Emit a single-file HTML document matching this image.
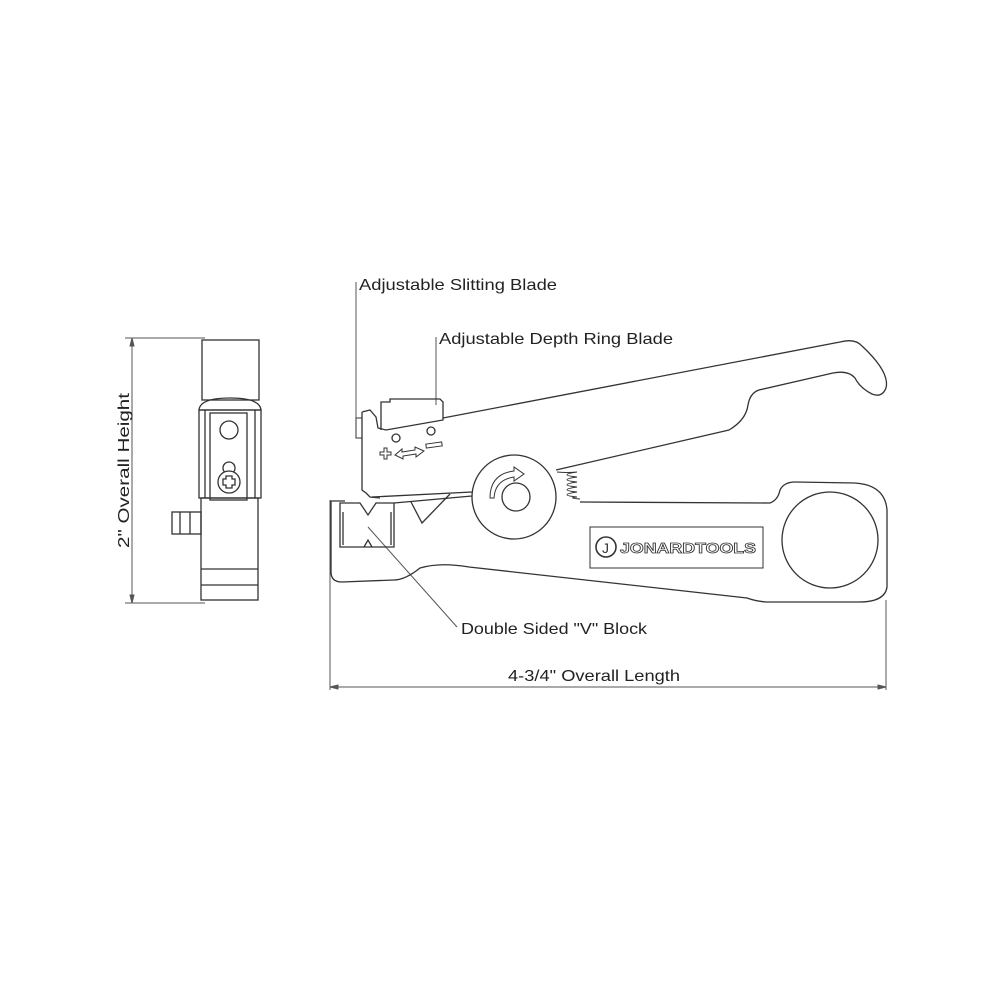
<!DOCTYPE html>
<html><head><style>html,body{margin:0;padding:0;background:#fff}svg{display:block}</style></head>
<body>
<svg width="1000" height="1000" viewBox="0 0 1000 1000" xmlns="http://www.w3.org/2000/svg" font-family="'Liberation Sans', sans-serif" fill="none" stroke="#333" stroke-width="1.3">
<!-- Dimensions -->
<g stroke="#555" stroke-width="1">
<line x1="330" y1="500" x2="330" y2="690"/>
<line x1="886" y1="600" x2="886" y2="690"/>
<line x1="330" y1="687" x2="886" y2="687"/>
<path d="M330 687 l8 -2 v4 z M886 687 l-8 -2 v4 z" fill="#555"/>
<line x1="125" y1="338" x2="205" y2="338"/>
<line x1="125" y1="603" x2="205" y2="603"/>
<line x1="132" y1="338" x2="132" y2="603"/>
<path d="M132 338 l-2 8 h4 z M132 603 l-2 -8 h4 z" fill="#555"/>
<line x1="356" y1="282" x2="356" y2="425"/>
<line x1="436" y1="337" x2="436" y2="405"/>
<line x1="368" y1="527" x2="457" y2="627"/>
</g>
<g fill="#222" stroke="none" font-size="16">
<text x="359" y="290" textLength="198" lengthAdjust="spacingAndGlyphs">Adjustable Slitting Blade</text>
<text x="439" y="344" textLength="234" lengthAdjust="spacingAndGlyphs">Adjustable Depth Ring Blade</text>
<text x="461" y="634" textLength="186" lengthAdjust="spacingAndGlyphs">Double Sided "V" Block</text>
<text x="508" y="681" textLength="172" lengthAdjust="spacingAndGlyphs">4-3/4" Overall Length</text>
<text transform="translate(129,548) rotate(-90)" textLength="155" lengthAdjust="spacingAndGlyphs">2" Overall Height</text>
</g>
<!-- Side view -->
<g>
<rect x="202" y="340" width="57" height="60"/>
<path d="M199 410 Q200 398 230 398 Q260 398 261 410 Z"/>
<rect x="199" y="410" width="62" height="88"/>
<rect x="210" y="413" width="37" height="87"/>
<line x1="205" y1="410" x2="205" y2="498"/><line x1="255" y1="410" x2="255" y2="498"/>
<circle cx="229" cy="430" r="9"/>
<circle cx="229" cy="468" r="6"/>
<circle cx="229" cy="482" r="11" fill="#fff"/>
<path d="M226 476 h6 v3 h3 v6 h-3 v3 h-6 v-3 h-3 v-6 h3 z"/>
<rect x="201" y="498" width="57" height="102"/>
<line x1="201" y1="569" x2="258" y2="569"/><line x1="201" y1="585" x2="258" y2="585"/>
<rect x="172" y="512" width="29" height="22"/>
<line x1="180" y1="512" x2="180" y2="534"/><line x1="190" y1="512" x2="190" y2="534"/>
</g>
<!-- Main tool: lower body -->
<path d="M580 502 L770 503 Q778 500 780 490 Q784 482 795 482 L855 483 Q885 485 887 510 L887 587 Q885 602 859 602 L766 602 Q755 601 747 598 L469 567 Q440 562 420 568 Q405 580 394 580 L342 582 Q331 582 331 572 L331 501 L345 501"/>
<path d="M394 503 L472 496"/>
<circle cx="830" cy="540" r="48"/>
<rect x="590" y="527" width="173" height="41" stroke-width="1"/>
<circle cx="606" cy="547" r="10" stroke-width="1.6"/>
<text x="602" y="553" font-size="14" fill="#333" stroke="none">J</text>
<text x="620" y="553" font-size="15" font-weight="bold" fill="#fff" stroke="#333" stroke-width="0.8" textLength="136" lengthAdjust="spacingAndGlyphs">JONARDTOOLS</text>
<!-- V block -->
<path d="M340 503 L360 503 L368 515 L376 503 L394 503 L394 547 L340 547 Z"/>
<path d="M343 512 L343 545 M391 512 L391 545"/>
<path d="M364 547 L368 540 L372 547"/>
<!-- top handle -->
<path d="M372 497 L472 492 L476 490"/>
<path d="M411 502 L422 523 L450 494"/>
<path d="M443 418 L840 342 Q855 338 862 346 Q890 372 886 388 Q882 398 872 394 Q860 388 855 378 Q848 370 833 373 L759 390 Q750 393 748 405 Q746 420 729 430 L556 470"/>
<!-- spring -->
<path d="M557 472 q10 1 20 0 q-20 3 0 5 q-20 3 0 5 q-20 3 0 5 q-20 3 0 5 q-20 3 0 5 q-10 1 3 2" stroke-width="1"/>
<!-- wheel -->
<circle cx="514" cy="497" r="42" fill="#fff"/>
<circle cx="516" cy="497" r="14"/>
<path d="M490 498 Q490 474 514 471 L514 467 L524 474 L514 481 L514 477 Q495 480 494 498 Z" stroke-width="1"/>
<!-- slitting blade -->
<path d="M362 412 L370 410 L376 417 L378 428 L386 430 L443 420 L443 418 M362 412 L362 490 L366 493 L370 497 L380 498"/>
<rect x="356" y="418" width="6" height="20" stroke-width="1"/>
<path d="M381 430 L381 402 L390 402 L390 399 L440 399 L443 402 L443 418" />
<circle cx="396" cy="438" r="4"/>
<circle cx="431" cy="431" r="4"/>
<path d="M384 448 h3 v4 h4 v3 h-4 v4 h-3 v-4 h-4 v-3 h4 z" stroke-width="1"/>
<path d="M395 455 L402 449 L402 452 L415 450 L415 447 L424 451 L416 457 L416 454 L403 456 L403 459 Z" stroke-width="1"/>
<rect x="426" y="443" width="16" height="4" transform="rotate(-8 434 445)" stroke-width="1"/>
</svg>
</body></html>
